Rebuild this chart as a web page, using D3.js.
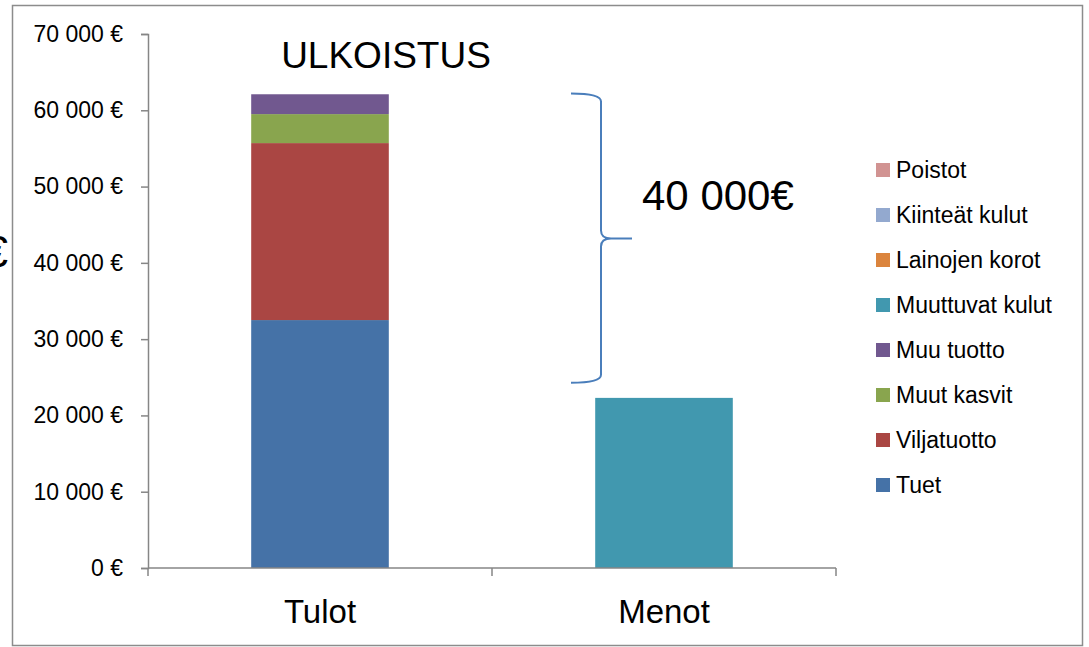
<!DOCTYPE html>
<html>
<head>
<meta charset="utf-8">
<script src="https://cdn.jsdelivr.net/npm/d3@7"></script>
<style>
  body { margin: 0; background: #fff; }
  svg { display: block; font-family: "Liberation Sans", Arial, sans-serif; }
</style>
</head>
<body>
<svg id="chart" width="1089" height="647"></svg>
<script>
// categories on the x axis
const categories = ['Tulot', 'Menot'];
// series, bottom of the stack first
const seriesNames = ['Tuet', 'Viljatuotto', 'Muut kasvit', 'Muu tuotto',
    'Muuttuvat kulut', 'Lainojen korot', 'Kiinteät kulut', 'Poistot'];
const seriesColors = ['#4572A7', '#AA4643', '#89A54E', '#71588F',
    '#4198AF', '#DB843D', '#93A9CF', '#D19392'];
// values per series: [Tulot, Menot]
const tuet = [32500, 0];
const viljatuotto = [23200, 0];
const muutKasvit = [3800, 0];
const muuTuotto = [2600, 0];
const muuttuvatKulut = [0, 22300];
const lainojenKorot = [0, 0];
const kiinteatKulut = [0, 0];
const poistot = [0, 0];
const yTicks = [0, 10000, 20000, 30000, 40000, 50000, 60000, 70000];
// brace annotation (euro values on the y scale)
const braceTop = 62200, braceBottom = 24300, braceMid = 43200;
const braceLabel = '40 000€';
const chartTitle = 'ULKOISTUS';

const allSeries = [tuet, viljatuotto, muutKasvit, muuTuotto,
    muuttuvatKulut, lainojenKorot, kiinteatKulut, poistot];

// table for d3.stack
const rows = categories.map((c, i) => {
    const r = { category: c };
    seriesNames.forEach((s, j) => { r[s] = allSeries[j][i]; });
    return r;
});
const stacked = d3.stack().keys(seriesNames)(rows);

const svg = d3.select('#chart');
const axisColor = '#868686';

// outer frame
svg.append('rect')
    .attr('x', 12.5).attr('y', 5.5)
    .attr('width', 1070).attr('height', 640)
    .attr('fill', 'none').attr('stroke', '#8c8c8c').attr('stroke-width', 1.5);

const x = d3.scaleBand().domain(categories).range([148, 836])
    .paddingInner(0.6).paddingOuter(0.3);
const y = d3.scaleLinear().domain([0, 70000]).range([568, 34]);

// bars
const color = d3.scaleOrdinal().domain(seriesNames).range(seriesColors);
svg.append('g').selectAll('g')
    .data(stacked)
    .enter().append('g')
    .attr('fill', d => color(d.key))
    .selectAll('rect')
    .data(d => d)
    .enter().append('rect')
    .attr('x', d => x(d.data.category))
    .attr('width', x.bandwidth())
    .attr('y', d => y(d[1]))
    .attr('height', d => y(d[0]) - y(d[1]));

// y axis
const fmt = v => d3.format(',')(v).replace(/,/g, ' ') + ' €';
const yAxis = svg.append('g')
    .attr('transform', 'translate(148,0)')
    .call(d3.axisLeft(y).tickValues(yTicks).tickFormat(fmt).tickSize(7).tickPadding(18));
yAxis.select('.domain').attr('stroke', axisColor).attr('stroke-width', 1.5);
yAxis.selectAll('.tick line').attr('stroke', axisColor).attr('stroke-width', 1.5);
yAxis.selectAll('.tick text')
    .attr('fill', '#000').attr('font-size', 23)
    .attr('font-family', '"Liberation Sans", Arial, sans-serif');

// x axis: line with category boundary ticks
const xAxis = svg.append('g').attr('transform', 'translate(0,568)');
xAxis.append('line')
    .attr('x1', 148).attr('x2', 836)
    .attr('stroke', axisColor).attr('stroke-width', 1.5);
const bounds = [148].concat(categories.map(c => x(c) + x.bandwidth() + x.step() * 0.3));
xAxis.selectAll('line.tk')
    .data(bounds)
    .enter().append('line')
    .attr('class', 'tk')
    .attr('x1', d => d).attr('x2', d => d)
    .attr('y1', 0).attr('y2', 8)
    .attr('stroke', axisColor).attr('stroke-width', 1.5);
xAxis.selectAll('text')
    .data(categories)
    .enter().append('text')
    .attr('x', d => x(d) + x.bandwidth() / 2)
    .attr('y', 55)
    .attr('text-anchor', 'middle')
    .attr('font-size', 33)
    .text(d => d);

// title
svg.append('text')
    .attr('x', 386).attr('y', 68)
    .attr('text-anchor', 'middle')
    .attr('font-size', 37)
    .text(chartTitle);

// partial euro sign clipped by the left edge
svg.append('text')
    .attr('x', 8).attr('y', 267)
    .attr('text-anchor', 'end')
    .attr('font-size', 44)
    .text('€');

// brace
const bx0 = 571, bx1 = 601, bTip = 632;
const yt = y(braceTop), yb = y(braceBottom), ym = y(braceMid);
const bracePath = [
    `M${bx0},${yt}`,
    `Q${bx1},${yt} ${bx1},${yt + 8}`,
    `L${bx1},${ym - 8}`,
    `Q${bx1},${ym} ${bx1 + 10},${ym}`,
    `L${bTip},${ym}`,
    `M${bx1 + 10},${ym}`,
    `Q${bx1},${ym} ${bx1},${ym + 8}`,
    `L${bx1},${yb - 8}`,
    `Q${bx1},${yb} ${bx0},${yb}`
].join(' ');
svg.append('path')
    .attr('d', bracePath)
    .attr('fill', 'none')
    .attr('stroke', '#4A7EBB')
    .attr('stroke-width', 2);

svg.append('text')
    .attr('x', 642).attr('y', 210)
    .attr('font-size', 42)
    .text(braceLabel);

// legend, top entry is the last series
const legend = svg.append('g');
const legendItems = seriesNames.slice().reverse();
legendItems.forEach((name, i) => {
    const cy = 170 + i * 45;
    legend.append('rect')
        .attr('x', 876).attr('y', cy - 7)
        .attr('width', 14).attr('height', 14)
        .attr('fill', color(name));
    legend.append('text')
        .attr('x', 896).attr('y', cy + 8)
        .attr('font-size', 23)
        .text(name);
});
</script>
</body>
</html>
